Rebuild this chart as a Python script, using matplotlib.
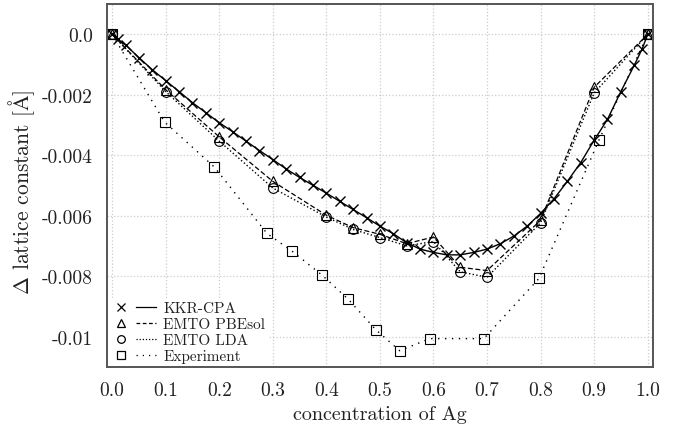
import numpy as np
import matplotlib
matplotlib.use('Agg')
from matplotlib import pyplot as plt
from matplotlib.lines import Line2D
from matplotlib.legend_handler import HandlerTuple

plt.rcParams['font.family'] = 'serif'
plt.rcParams['font.serif'] = ['cmr10']
plt.rcParams['mathtext.fontset'] = 'cm'
plt.rcParams['axes.unicode_minus'] = False

# KKR-CPA
kkr_x = [0.0, 0.01, 0.025, 0.05, 0.075, 0.1, 0.125, 0.15, 0.175, 0.2, 0.225, 0.25,
         0.275, 0.3, 0.325, 0.35, 0.375, 0.4, 0.425, 0.45, 0.475, 0.5, 0.525,
         0.55, 0.575, 0.6, 0.625, 0.65, 0.675, 0.7, 0.725, 0.75, 0.775, 0.8,
         0.825, 0.85, 0.875, 0.9, 0.925, 0.95, 0.975, 0.99, 1.0]
kkr_y = [0.0, -0.00016, -0.00035, -0.00077, -0.00117, -0.00153, -0.00189, -0.00226,
         -0.00259, -0.00292, -0.00322, -0.00353, -0.00384, -0.00414, -0.00445,
         -0.00473, -0.00499, -0.00525, -0.00552, -0.00579, -0.00606, -0.00634,
         -0.00659, -0.00689, -0.00710, -0.00721, -0.00729, -0.00729, -0.00721,
         -0.00710, -0.00692, -0.00667, -0.00634, -0.00592, -0.00544, -0.00486,
         -0.00424, -0.00350, -0.00281, -0.00189, -0.00102, -0.00047, 0.0]

# EMTO
emto_x = [0.0, 0.1, 0.2, 0.3, 0.4, 0.45, 0.5, 0.55, 0.6, 0.65, 0.7, 0.8, 0.9, 1.0]
pbesol_y = [0.0, -0.00183, -0.00339, -0.00486, -0.00598, -0.00639, -0.00661,
            -0.00692, -0.00670, -0.00770, -0.00781, -0.00615, -0.00175, 0.0]
lda_y = [0.0, -0.00189, -0.00353, -0.00508, -0.00604, -0.00645, -0.00672,
         -0.00699, -0.00685, -0.00785, -0.00803, -0.00623, -0.00194, 0.0]

# Experiment
exp_x = [0.0, 0.098, 0.191, 0.289, 0.336, 0.392, 0.441, 0.492, 0.537, 0.593,
         0.694, 0.797, 0.909, 1.0]
exp_y = [0.0, -0.0029, -0.00439, -0.00658, -0.00717, -0.00796, -0.00876,
         -0.00976, -0.01046, -0.01006, -0.01006, -0.00807, -0.0035, 0.0]

xticks = [0.0, 0.1, 0.2, 0.3, 0.4, 0.5, 0.6, 0.7, 0.8, 0.9, 1.0]
yticks = [0.0, -0.002, -0.004, -0.006, -0.008, -0.01]
ytick_labels = ['0.0', '-0.002', '-0.004', '-0.006', '-0.008', '-0.01']

fig = plt.figure(figsize=(6.76, 4.27), dpi=100)
ax = fig.add_axes([0.158, 0.138, 0.808, 0.850])

k = 'black'
tc = '#222222'
ax.plot(kkr_x, kkr_y, color=k, ls='-', lw=1.0, marker='x', ms=7, mew=1.0)
ax.plot(emto_x, pbesol_y, color=k, ls='--', lw=0.9, marker='^', ms=7,
        mfc='none', mew=0.8, dashes=(4, 2))
ax.plot(emto_x, lda_y, color=k, ls=':', lw=1.0, marker='o', ms=7,
        mfc='none', mew=0.8)
ax.plot(exp_x, exp_y, color=k, ls=':', lw=1.0, marker='s', ms=7,
        mfc='none', mew=0.8, dashes=(1, 4))

ax.set_xlim(-0.01, 1.01)
ax.set_ylim(-0.011, 0.001)
ax.set_xticks(xticks)
ax.set_xticklabels(['%.1f' % v for v in xticks])
ax.set_yticks(yticks)
ax.set_yticklabels(ytick_labels)
ax.tick_params(length=0, labelsize=14, pad=10, labelcolor=tc)
ax.grid(True, color='#cccccc', ls=':', lw=0.9)
for s in ax.spines.values():
    s.set_color('#555555')
    s.set_linewidth(1.4)

ax.set_xlabel('concentration of Ag', fontsize=14.5, labelpad=4.5, color=tc)
ax.set_ylabel(r'$\Delta$ lattice constant [$\mathrm{\AA}$]', fontsize=15.5, color=tc)
ax.yaxis.set_label_coords(-0.128, 0.485)

def pair(marker, ls, dashes=None):
    m = Line2D([], [], color=k, ls='none', marker=marker, ms=5.5, mfc='none', mew=0.9)
    if dashes is None:
        l = Line2D([], [], color=k, ls=ls, lw=0.9)
    else:
        l = Line2D([], [], color=k, ls=ls, lw=0.9, dashes=dashes)
    return (m, l)

handles = [pair('x', '-'), pair('^', '--', (3, 2)), pair('o', ':', (1, 1.5)),
           pair('s', ':', (1, 4))]
labels = ['KKR-CPA', 'EMTO PBEsol', 'EMTO LDA', 'Experiment']
leg = ax.legend(handles, labels, loc='lower left', fontsize=11,
                handler_map={tuple: HandlerTuple(ndivide=None, pad=0.3)},
                handlelength=3.0, handletextpad=0.45, labelspacing=0.15,
                borderaxespad=0.1, borderpad=0.15, frameon=True, fancybox=False)
leg.get_frame().set_edgecolor('none')
leg.get_frame().set_facecolor('white')
leg.get_frame().set_alpha(1.0)
for t in leg.get_texts():
    t.set_color(tc)

fig.savefig('out.png', dpi=100)
